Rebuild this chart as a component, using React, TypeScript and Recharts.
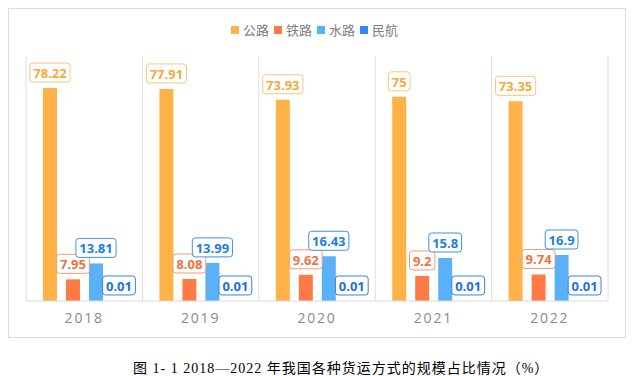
import { BarChart, Bar, XAxis, YAxis, CartesianGrid, Legend, LabelList } from 'recharts';

const YEARS = ['2018', '2019', '2020', '2021', '2022'];
const ROAD = [78.22, 77.91, 73.93, 75, 73.35];
const RAIL = [7.95, 8.08, 9.62, 9.2, 9.74];
const WATER = [13.81, 13.99, 16.43, 15.8, 16.9];
const AIR = [0.01, 0.01, 0.01, 0.01, 0.01];

const SERIES = [
  { key: 'road', name: '公路', color: '#FFB247', text: '#F5A93F', border: '#FBC57A' },
  { key: 'rail', name: '铁路', color: '#FF7A45', text: '#F2703F', border: '#F89874' },
  { key: 'water', name: '水路', color: '#5BB1F8', text: '#1A80E2', border: '#3A93EC' },
  { key: 'air', name: '民航', color: '#3A85F5', text: '#1F6FE0', border: '#3A80EE' },
] as const;

const data = YEARS.map((y, i) => ({
  year: y,
  road: ROAD[i],
  rail: RAIL[i],
  water: WATER[i],
  air: AIR[i],
}));

const textWidth = (s: string) =>
  s.split('').reduce((w, c) => w + (c === '.' ? 3.6 : 7.4), 0);

function boxLabel(text: string, border: string) {
  return (props: any) => {
    const { x, y, width, value } = props;
    const label = String(value);
    const w = textWidth(label) + 7;
    const h = 19;
    const cx = x + width / 2;
    const top = y - 6 - h;
    return (
      <g>
        <rect x={cx - w / 2} y={top} width={w} height={h} rx={3} fill="#fff" stroke={border} strokeWidth={1} />
        <text
          x={cx}
          y={top + h / 2 + 0.5}
          textAnchor="middle"
          dominantBaseline="central"
          fill={text}
          fontSize={13}
          fontWeight={700}
          fontFamily="'Open Sans', sans-serif"
        >
          {label}
        </text>
      </g>
    );
  };
}

function LegendBox() {
  return (
    <div style={{ display: 'flex', justifyContent: 'center', fontFamily: "'Noto Sans CJK SC', sans-serif", fontSize: 13, lineHeight: '14px', color: '#808080' }}>
      {SERIES.map((s) => (
        <span key={s.key} style={{ display: 'flex', alignItems: 'center', marginRight: 5 }}>
          <span style={{ width: 8, height: 8, background: s.color, marginRight: 4, display: 'inline-block' }} />
          {s.name}
        </span>
      ))}
    </div>
  );
}

export default function App() {
  return (
    <div style={{ width: 630 }}>
      <div style={{ width: 616, height: 328, border: '1px solid #dcdcdc' }}>
        <BarChart
          width={616}
          height={328}
          data={data}
          margin={{ top: 33, right: 17, bottom: 6, left: 17 }}
          barSize={14}
          barGap={9}
        >
          <CartesianGrid
            horizontal={false}
            stroke="#dedede"
            verticalCoordinatesGenerator={({ offset }: any) => {
              const step = offset.width / YEARS.length;
              return YEARS.map((_, i) => offset.left + step * i).concat(offset.left + offset.width);
            }}
          />
          <XAxis
            dataKey="year"
            height={30}
            tickLine={false}
            axisLine={{ stroke: '#d9d9d9' }}
            tick={{ fontSize: 14, fill: '#8a8a8a', letterSpacing: 1.8, fontFamily: "'Open Sans', sans-serif" }}
            tickMargin={6}
          />
          <YAxis hide domain={[0, 90]} />
          <Legend
            verticalAlign="top"
            height={0}
            wrapperStyle={{ top: 14 }}
            content={() => <LegendBox />}
          />
          {SERIES.map((s) => (
            <Bar key={s.key} dataKey={s.key} name={s.name} fill={s.color} isAnimationActive={false}>
              <LabelList dataKey={s.key} content={boxLabel(s.text, s.border)} />
            </Bar>
          ))}
        </BarChart>
      </div>
      <div
        style={{
          marginTop: 19,
          paddingLeft: 125,
          fontFamily: "'Liberation Serif', 'Noto Sans CJK SC', serif",
          fontSize: 14,
          letterSpacing: 1,
          color: '#000',
          whiteSpace: 'nowrap',
        }}
      >
        图 1- 1 2018—2022 年我国各种货运方式的规模占比情况（%）
      </div>
    </div>
  );
}
